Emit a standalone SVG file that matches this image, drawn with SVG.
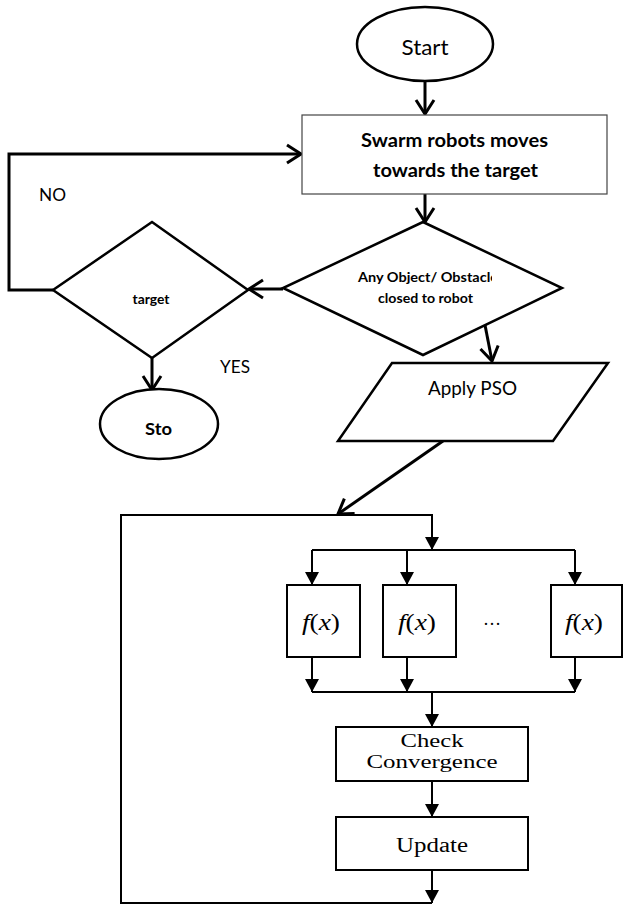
<svg xmlns="http://www.w3.org/2000/svg" width="624" height="908" viewBox="0 0 624 908">
<style>
.thick{fill:none;stroke:#000;stroke-width:3}
.shape{fill:#fff;stroke:#000;stroke-width:2.5}
.thin{fill:none;stroke:#000;stroke-width:2}
.box{fill:#fff;stroke:#000;stroke-width:2}
.sans{font-family:Lato,"Open Sans","Liberation Sans",sans-serif;fill:#000}
.serif{font-family:"Liberation Serif","DejaVu Serif",serif;fill:#000}
.b{font-weight:bold}
.it{font-style:italic}
</style>
<defs>
<marker id="open" viewBox="-17 -12 19 24" refX="0" refY="0" markerWidth="19" markerHeight="24" markerUnits="userSpaceOnUse" orient="auto">
<path d="M-14,-9 L0,0 L-14,9" fill="none" stroke="#000" stroke-width="3"/>
</marker>
<marker id="tri" viewBox="-14 -8 15 16" refX="0" refY="0" markerWidth="15" markerHeight="16" markerUnits="userSpaceOnUse" orient="auto">
<path d="M-13,-7 L0,0 L-13,7 Z" fill="#000"/>
</marker>
<clipPath id="clipObs"><rect x="300" y="260" width="192" height="60"/></clipPath>
</defs>
<rect width="624" height="908" fill="#fff"/>

<g id="connectors">
<path class="thick" d="M425,81 V114" marker-end="url(#open)"/>
<path class="thick" d="M425,194 V222" marker-end="url(#open)"/>
<path class="thick" d="M283,289 H249" marker-end="url(#open)"/>
<path class="thick" d="M152,358 V390" marker-end="url(#open)"/>
<path class="thick" d="M53,290 H9 V154 H301" marker-end="url(#open)"/>
<path class="thick" d="M485,325 L492,361" marker-end="url(#open)"/>
<path class="thick" d="M443,441 L338,514" marker-end="url(#open)"/>
<path class="thin" d="M432,903 H121 V515 H432 V550" marker-end="url(#tri)"/>
<path class="thin" d="M312,550 H575"/>
<path class="thin" d="M312,550 V585" marker-end="url(#tri)"/>
<path class="thin" d="M407,550 V585" marker-end="url(#tri)"/>
<path class="thin" d="M575,550 V585" marker-end="url(#tri)"/>
<path class="thin" d="M312,657 V692" marker-end="url(#tri)"/>
<path class="thin" d="M407,657 V692" marker-end="url(#tri)"/>
<path class="thin" d="M575,657 V692" marker-end="url(#tri)"/>
<path class="thin" d="M312,692 H575"/>
<path class="thin" d="M432,692 V727" marker-end="url(#tri)"/>
<path class="thin" d="M432,781 V817" marker-end="url(#tri)"/>
<path class="thin" d="M432,870 V903" marker-end="url(#tri)"/>
</g>

<g id="start">
<ellipse cx="425" cy="44" rx="68" ry="37" class="shape" stroke-width="3"/>
<text x="425" y="55" text-anchor="middle" class="sans" font-size="21.5" textLength="47" lengthAdjust="spacingAndGlyphs">Start</text>
</g>

<g id="swarm">
<rect x="302" y="115" width="305" height="79" fill="#fff" stroke="#444" stroke-width="1.2"/>
<text x="454.5" y="147" text-anchor="middle" class="sans b" font-size="18.5" textLength="187" lengthAdjust="spacingAndGlyphs">Swarm robots moves</text>
<text x="455.5" y="177" text-anchor="middle" class="sans b" font-size="18.5" textLength="165" lengthAdjust="spacingAndGlyphs">towards the target</text>
</g>

<g id="obstacle">
<polygon points="423,222 562,288 423,355 283,288" class="shape" stroke-width="2"/>
<text x="428" y="282" text-anchor="middle" class="sans b" font-size="12.5" textLength="140" lengthAdjust="spacingAndGlyphs" clip-path="url(#clipObs)">Any Object/ Obstacle</text>
<text x="425.5" y="303" text-anchor="middle" class="sans b" font-size="12.5" textLength="95" lengthAdjust="spacingAndGlyphs">closed to robot</text>
</g>

<g id="target">
<polygon points="152,222 248,290 152,358 53,290" class="shape"/>
<text x="151" y="304" text-anchor="middle" class="sans b" font-size="12.5" textLength="37" lengthAdjust="spacingAndGlyphs">target</text>
</g>

<g id="labels">
<text x="39" y="201" class="sans" font-size="17" textLength="27" lengthAdjust="spacingAndGlyphs">NO</text>
<text x="220" y="373" class="sans" font-size="17" textLength="30" lengthAdjust="spacingAndGlyphs">YES</text>
</g>

<g id="stop">
<ellipse cx="159" cy="424" rx="59" ry="35" class="shape" stroke-width="3"/>
<text x="158.5" y="435" text-anchor="middle" class="sans b" font-size="17.5" textLength="27" lengthAdjust="spacingAndGlyphs">Sto</text>
</g>

<g id="pso">
<polygon points="392,363 608,363 553,441 338,441" class="shape"/>
<text x="472.5" y="395" text-anchor="middle" class="sans" font-size="18.5" textLength="89" lengthAdjust="spacingAndGlyphs">Apply PSO</text>
</g>

<g id="f1">
<rect x="287" y="585" width="73" height="72" class="box"/>
<text x="321" y="630" text-anchor="middle" class="serif" font-size="23" textLength="38" lengthAdjust="spacingAndGlyphs"><tspan class="it">f</tspan>(<tspan class="it">x</tspan>)</text>
</g>
<g id="f2">
<rect x="383" y="585" width="73" height="72" class="box"/>
<text x="417" y="630" text-anchor="middle" class="serif" font-size="23" textLength="38" lengthAdjust="spacingAndGlyphs"><tspan class="it">f</tspan>(<tspan class="it">x</tspan>)</text>
</g>
<g id="dots">
<text x="492" y="625" text-anchor="middle" class="serif" font-size="18">…</text>
</g>
<g id="f3">
<rect x="551" y="585" width="71" height="72" class="box"/>
<text x="584" y="630" text-anchor="middle" class="serif" font-size="23" textLength="38" lengthAdjust="spacingAndGlyphs"><tspan class="it">f</tspan>(<tspan class="it">x</tspan>)</text>
</g>

<g id="check">
<rect x="336" y="727" width="192" height="54" class="box"/>
<text x="432" y="747" text-anchor="middle" class="serif" font-size="19" textLength="63" lengthAdjust="spacingAndGlyphs">Check</text>
<text x="432" y="768" text-anchor="middle" class="serif" font-size="19" textLength="131" lengthAdjust="spacingAndGlyphs">Convergence</text>
</g>

<g id="update">
<rect x="336" y="817" width="192" height="53" class="box"/>
<text x="432" y="852" text-anchor="middle" class="serif" font-size="20" textLength="72" lengthAdjust="spacingAndGlyphs">Update</text>
</g>
</svg>
